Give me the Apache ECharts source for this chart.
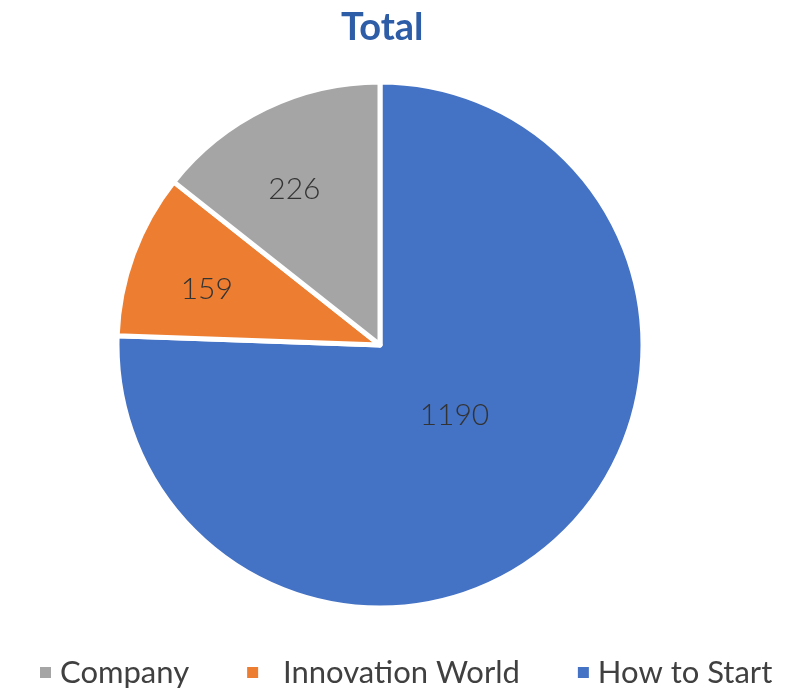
<!DOCTYPE html>
<html><head><meta charset="utf-8">
<script src="https://cdn.jsdelivr.net/npm/echarts@6/dist/echarts.min.js"></script>
<style>html,body{margin:0;padding:0;background:#fff}#c{width:795px;height:693px}</style>
</head><body><div id="c"></div>
<script>
const categories = ["How to Start", "Innovation World", "Company"];
const values = [1190, 159, 226];
const legendOrder = ["Company", "Innovation World", "How to Start"];
const colors = ["#4472C4", "#ED7D31", "#A5A5A5"];
const labelOffsets = [[-19, -26], [-47, -9], [-27, -35]];

const chart = echarts.init(document.getElementById('c'));
chart.setOption({
  animation: false,
  title: {
    text: 'Total', left: 336, top: 4,
    textStyle: { fontFamily: 'Lato', fontWeight: 'bold', fontSize: 38, color: '#2E5DA8' }
  },
  legend: {
    data: legendOrder, bottom: 0, left: 33,
    icon: 'rect', itemWidth: 13, itemHeight: 13, itemGap: 56,
    formatter: n => n === 'Innovation World' ? '  ' + n : n,
    textStyle: { fontFamily: 'Lato', fontSize: 31, color: '#404040', padding: [0, 0, 0, 3] }
  },
  series: [{
    type: 'pie', center: [380, 345], radius: 263, startAngle: 90, clockwise: true,
    label: { show: true, position: 'inside', fontFamily: 'Lato', fontWeight: 300, fontSize: 30, color: '#333333', formatter: '{c}' },
    labelLine: { show: false },
    itemStyle: { borderColor: '#fff', borderWidth: 5 },
    emphasis: { disabled: true },
    data: categories.map((n, i) => ({
      name: n, value: values[i],
      itemStyle: { color: colors[i] },
      label: { offset: labelOffsets[i] }
    }))
  }]
});
</script></body></html>
